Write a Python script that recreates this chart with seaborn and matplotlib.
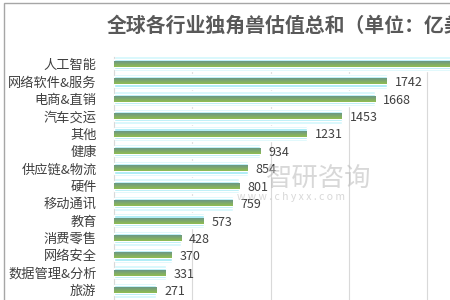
import numpy as np
import pandas as pd
import matplotlib
matplotlib.use("Agg")
import matplotlib.pyplot as plt
import seaborn as sns
from matplotlib.patches import Rectangle

# data (top bar runs past the crop, value estimated)
categories = ["人工智能", "网络软件&服务", "电商&直销", "汽车交运", "其他", "健康",
              "供应链&物流", "硬件", "移动通讯", "教育", "消费零售", "网络安全",
              "数据管理&分析", "旅游"]
values = [2500, 1742, 1668, 1453, 1231, 934, 854, 801, 759, 573, 428, 370, 331, 271]
title = "全球各行业独角兽估值总和（单位：亿美元）"

df = pd.DataFrame({"行业": categories, "估值": values})

sns.set_style("white")
plt.rcParams["font.family"] = ["Noto Sans CJK SC", "DejaVu Sans"]

XMAX = 2145
fig = plt.figure(figsize=(4.5, 3), dpi=100)
ax = fig.add_axes([114 / 450, 0, 1 - 114 / 450, 1 - 57 / 300])

# glow layers behind the bars
sns.barplot(data=df, x="估值", y="行业", orient="h", color="#d2f7fc", width=0.86,
            saturation=1, ax=ax, zorder=2)
sns.barplot(data=df, x="估值", y="行业", orient="h", color="#9fe9f5", width=0.6,
            saturation=1, ax=ax, zorder=3)
n_before = len(ax.patches)
sns.barplot(data=df, x="估值", y="行业", orient="h", color="#86b45e", width=0.34,
            saturation=1, ax=ax, zorder=4)
green = ax.patches[n_before:]

# vertical gradient on the green bars
grad = np.linspace(0, 1, 32).reshape(-1, 1)
cmap = matplotlib.colors.LinearSegmentedColormap.from_list("g", ["#6a9886", "#7faa6a", "#8fbd52"])
for p in green:
    x0, y0, w, h = p.get_x(), p.get_y(), p.get_width(), p.get_height()
    im = ax.imshow(grad, extent=(x0, x0 + w, y0 + h, y0), aspect="auto", cmap=cmap,
                   zorder=5, interpolation="bilinear")
    im.set_clip_path(p)
ax.set_xlim(0, XMAX)
ax.set_ylim(13.56, -0.4)

for i, v in enumerate(values):
    if v + 45 < XMAX:
        ax.text(v + 50, i + 0.08, str(v), va="center", ha="left", fontsize=9,
                color="#404040", zorder=6)

ax.set_xticks([0, 500, 1000, 1500, 2000])
ax.grid(axis="x", color="#d9d9d9", linewidth=0.8, zorder=0)
ax.tick_params(axis="x", bottom=False, labelbottom=False)
ax.tick_params(axis="y", left=False, pad=9, labelsize=9.5, labelcolor="#404040")
ax.set_xlabel("")
ax.set_ylabel("")
for s in ["top", "right", "bottom"]:
    ax.spines[s].set_visible(False)
ax.spines["left"].set_color("#d9d9d9")
ax.spines["left"].set_linewidth(0.8)

fig.text(107 / 450, 1 - 25 / 300, title, ha="left", va="center", fontsize=14.3,
         fontweight="bold", color="#595959")

# watermark
fig.text(266 / 450, 1 - 178 / 300, "智研咨询", ha="left", va="center", fontsize=19,
         color="#b8b8b8", alpha=0.55, zorder=10)
fig.text(237 / 450, 1 - 197 / 300, "w w w . c h y x x . c o m", ha="left", va="center",
         fontsize=7.5, color="#b8b8b8", alpha=0.55, zorder=10)

# outer chart frame (cropped on right and bottom)
fig.patches.append(Rectangle((4 / 450, -0.1), 1.2, 1 - 3 / 300 + 0.1, transform=fig.transFigure,
                             fill=False, edgecolor="#a6a6a6", linewidth=1.0))

fig.savefig("out.png", dpi=100)
